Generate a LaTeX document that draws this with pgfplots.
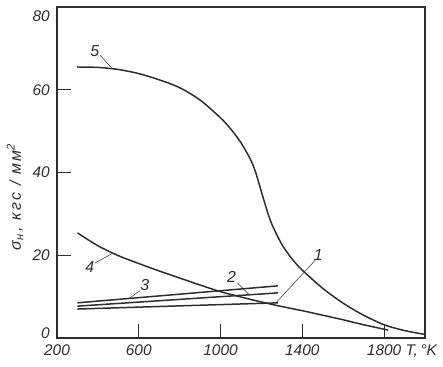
\documentclass[border=0pt]{standalone}
\usepackage{fontspec}
\setmainfont{Liberation Sans}
\usepackage{pgfplots}
\pgfplotsset{compat=1.18}
\definecolor{ink}{RGB}{45,45,50}
\begin{document}
\begin{tikzpicture}
\begin{axis}[
  name=ax,
  scale only axis,
  width=368bp, height=331bp,
  xmin=200, xmax=2000, ymin=0, ymax=80,
  xtick={200,600,1000,1400,1800},
  ytick={0,20,40,60,80},
  yticklabels={\raisebox{5bp}[\height][\depth]{0},20,40,60,\raisebox{-9bp}[\height][\depth]{80}},
  tick align=inside,
  major tick length=14bp,
  xtick pos=bottom, ytick pos=left,
  axis line style={ink, line width=1.3pt},
  every tick/.style={ink, line width=0.6pt},
  /pgf/number format/assume math mode=true,
  /pgf/number format/1000 sep={},
  tick label style={font=\fontsize{15.5}{15.5}\selectfont\itshape, text=ink, inner sep=1bp},
  xticklabel style={yshift=-6bp},
  yticklabel style={xshift=-6bp},
  xlabel={T,\,°K},
  x label style={at={(axis description cs:0.99,0)}, anchor=north, inner sep=1bp, yshift=-6bp, font=\fontsize{15.5}{15.5}\selectfont\itshape, text=ink},
  ylabel={σ\textsubscript{н}\,, кгс / мм\textsuperscript{2}},
  y label style={at={(axis description cs:-0.114,0.426)}, anchor=center, rotate=0, font=\fontsize{16}{16}\selectfont\itshape\addfontfeature{LetterSpace=14}, text=ink},
  clip=false,
]
% curve 5
\addplot[ink, line width=1.5pt, smooth, tension=0.5] coordinates {
 (298,65.5) (400,65.4) (500,64.9) (600,63.9) (700,62.4) (800,60.5) (900,57.5)
 (1000,53.2) (1050,50.5) (1100,47.2) (1150,42.8) (1175,39.5) (1200,35.3)
 (1225,31.2) (1250,27.6) (1300,22.6) (1350,19.1) (1400,16.4) (1500,12.0)
 (1600,8.4) (1700,5.5) (1800,3.2) (1900,1.8) (1995,0.9)
};
% curve 4
\addplot[ink, line width=1.5pt, smooth, tension=0.5] coordinates {
 (300,25.4) (400,22.3) (500,19.9) (600,18.0) (700,16.2) (800,14.5) (900,12.8)
 (1000,11.2) (1100,9.9) (1200,8.7) (1300,7.6) (1400,6.6) (1500,5.5)
 (1600,4.4) (1700,3.2) (1820,1.9)
};
% lines 3, 2, 1
\addplot[ink, line width=1.5pt] coordinates {(300,8.5) (1280,12.6)};
\addplot[ink, line width=1.5pt] coordinates {(300,7.7) (1280,10.9)};
\addplot[ink, line width=1.5pt] coordinates {(300,7.0) (1280,8.5)};
% labels
\tikzset{lab/.style={font=\fontsize{16}{16}\selectfont\itshape, text=ink, inner sep=1pt}}
\node[lab] at (axis cs:385,69.3) {5};
\draw[ink, line width=0.5pt] (axis cs:410,68.4) -- (axis cs:468,65.2);
\node[lab] at (axis cs:361,17.1) {4};
\draw[ink, line width=0.5pt] (axis cs:385,18.1) -- (axis cs:473,20.5);
\node[lab] at (axis cs:629,12.9) {3};
\draw[ink, line width=0.5pt] (axis cs:605,11.4) -- (axis cs:556,9.7);
\node[lab] at (axis cs:1054,14.8) {2};
\draw[ink, line width=0.5pt] (axis cs:1083,13.3) -- (axis cs:1141,10.4);
\node[lab] at (axis cs:1478,20.1) {1};
\draw[ink, line width=0.5pt] (axis cs:1463,18.8) -- (axis cs:1273,8.6);
\end{axis}
\pgfresetboundingbox
\path ([xshift=-57bp,yshift=-29bp]ax.south west) rectangle ([xshift=18bp,yshift=7bp]ax.north east);
\end{tikzpicture}
\end{document}
